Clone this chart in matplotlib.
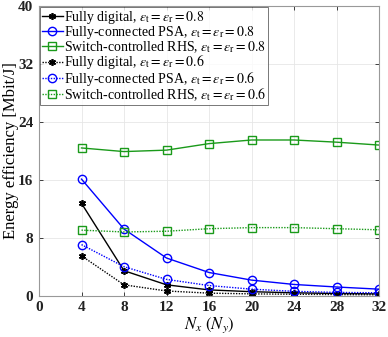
import matplotlib
matplotlib.use("Agg")
import matplotlib.pyplot as plt

N = [4, 8, 12, 16, 20, 24, 28, 32]
fd_08 = [12.75, 3.45, 1.5, 0.8, 0.55, 0.4, 0.3, 0.25]
fc_08 = [16.1, 9.2, 5.2, 3.2, 2.15, 1.55, 1.2, 0.9]
rhs_08 = [20.4, 19.9, 20.1, 21.0, 21.5, 21.5, 21.2, 20.8]
fd_06 = [5.5, 1.5, 0.65, 0.35, 0.25, 0.2, 0.15, 0.12]
fc_06 = [7.05, 4.0, 2.25, 1.4, 0.9, 0.6, 0.45, 0.4]
rhs_06 = [9.05, 8.8, 8.9, 9.25, 9.4, 9.4, 9.25, 9.1]

xticks = [0, 4, 8, 12, 16, 20, 24, 28, 32]
yticks = [0, 8, 16, 24, 32, 40]

plt.rcParams['font.family'] = ['Liberation Serif', 'DejaVu Serif']
plt.rcParams['mathtext.fontset'] = 'stix'

fig = plt.figure(figsize=(3.88, 3.37), dpi=100)
ax = fig.add_axes([0.1005, 0.1226, 0.8765, 0.8595])

eps08 = r", $\varepsilon_{\mathrm{t}}=\varepsilon_{\mathrm{r}}=0.8$"
eps06 = r", $\varepsilon_{\mathrm{t}}=\varepsilon_{\mathrm{r}}=0.6$"
lw = 1.0
ms = 6
green = '#1a9a1a'
ax.plot(N, fd_08, color='black', ls='-', lw=lw, marker=(6, 2, 0), ms=5, mew=1.2,
        label="Fully digital" + eps08)
ax.plot(N, fc_08, color='blue', ls='-', lw=lw, marker='o', ms=ms, mfc='none', mew=1.0,
        label="Fully-connected PSA" + eps08)
ax.plot(N, rhs_08, color=green, ls='-', lw=lw, marker='s', ms=5.5, mfc='none', mew=1.0,
        label="Switch-controlled RHS" + eps08)
ax.plot(N, fd_06, color='black', ls=(0, (1, 1)), lw=lw, marker=(6, 2, 0), ms=5, mew=1.2,
        label="Fully digital" + eps06)
ax.plot(N, fc_06, color='blue', ls=(0, (1, 1)), lw=lw, marker='o', ms=ms, mfc='none', mew=1.0,
        label="Fully-connected PSA" + eps06)
ax.plot(N, rhs_06, color=green, ls=(0, (1, 1)), lw=lw, marker='s', ms=5.5, mfc='none', mew=1.0,
        label="Switch-controlled RHS" + eps06)

ax.set_xlim(0, 32)
ax.set_ylim(0, 40)
ax.set_xticks(xticks)
ax.set_yticks(yticks)
ax.set_xticklabels([str(v) for v in xticks], fontweight='bold', fontsize=11)
ax.set_yticklabels([str(v) for v in yticks], fontweight='bold', fontsize=11)
ax.tick_params(direction='in', top=True, right=True, length=3, width=0.6, colors='#222222', pad=4)
ax.grid(True, color='#e6e6e6', lw=0.6)
ax.set_axisbelow(True)
for s in ax.spines.values():
    s.set_color('#999999')
    s.set_linewidth(0.8)

ax.set_xlabel(r"$N_x\ (N_y)$", fontsize=12)
ax.xaxis.set_label_coords(0.5, -0.068)
ax.set_ylabel("Energy efficiency [Mbit/J]", fontsize=12)
ax.yaxis.set_label_coords(-0.058, 0.5)

leg = ax.legend(loc='upper left', fontsize=10, frameon=True, fancybox=False,
                borderpad=0.15, labelspacing=-0.12, handlelength=1.5, handletextpad=0.1,
                borderaxespad=0.05, edgecolor='#555555')
leg.get_frame().set_linewidth(0.7)

fig.savefig("out.png", dpi=100)
